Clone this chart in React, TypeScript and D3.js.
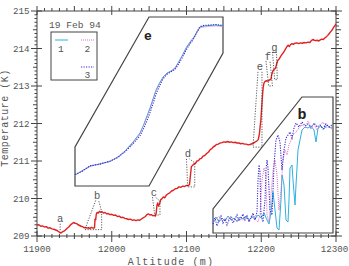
import React from "react";
import * as d3 from "d3";

const W = 349, H = 266;

// Main profile
const mainAlt = [11900,11902.5,11905,11907.5,11910,11912.5,11915,11917.5,11920,11922.5,11925,11927.5,11930,11932,11934,11936,11938,11940,11942.5,11945,11947,11949,11951,11953,11955,11957,11959,11961,11963,11965,11967,11969,11971,11973,11975,11977,11977.6,11978.5,11979.3,11980.5,11982,11983.5,11985,11987,11989,11991,11993,11995,11997.5,12000,12002.5,12005,12007.5,12010,12012.5,12015,12017.5,12020,12022.5,12025,12027.5,12030,12032.5,12035,12037.5,12040,12042.5,12045,12047,12049,12051,12053,12055,12057,12058.5,12059.5,12060.5,12061.5,12062.5,12064,12065.5,12067,12069,12071,12073,12075,12077.5,12080,12082.5,12085,12087.5,12090,12092.5,12095,12097.5,12100,12102,12104,12105.5,12106.5,12108,12110,12112,12114,12116,12118,12120,12122,12124,12127,12129.5,12132,12134,12136,12138,12140,12142.5,12145,12147.5,12150,12152.5,12155,12157.5,12160,12162.5,12165,12167.5,12170,12172.5,12175,12177.5,12180,12182.5,12185,12187.5,12190,12192,12194,12196,12197.5,12198.5,12199.5,12200.5,12201.5,12202.5,12203.5,12205,12207,12209,12211,12213,12214,12215.5,12217,12219,12220.5,12222,12224,12226,12228,12230,12232,12234,12236,12237.5,12239,12241,12243,12245,12247.5,12250,12252.5,12255,12257.5,12260,12262.5,12265,12267,12269,12271,12273,12275,12277,12279,12281,12283,12285,12287,12289,12291,12293,12295,12297,12299,12300];
const mainTemp = [209.29,209.30,209.26,209.27,209.24,209.25,209.21,209.22,209.19,209.18,209.16,209.14,209.10,209.08,209.11,209.13,209.16,209.20,209.24,209.30,209.33,209.36,209.34,209.33,209.30,209.28,209.26,209.25,209.22,209.23,209.21,209.22,209.20,209.23,209.21,209.22,209.45,209.43,209.58,209.63,209.61,209.66,209.63,209.65,209.61,209.63,209.59,209.60,209.57,209.58,209.55,209.56,209.52,209.53,209.49,209.50,209.47,209.46,209.44,209.45,209.42,209.43,209.41,209.43,209.42,209.46,209.49,209.52,209.57,209.59,209.56,209.57,209.54,209.55,209.53,209.62,209.82,209.88,209.80,209.86,209.97,209.99,210.04,210.02,210.09,210.12,210.15,210.20,210.22,210.26,210.27,210.31,210.30,210.33,210.32,210.35,210.34,210.37,210.66,210.85,210.88,210.92,210.94,211.00,211.01,211.06,211.07,211.13,211.14,211.20,211.24,211.31,211.33,211.38,211.40,211.44,211.45,211.48,211.49,211.51,211.50,211.52,211.50,211.51,211.49,211.50,211.48,211.48,211.46,211.47,211.45,211.45,211.43,211.44,211.46,211.48,211.51,211.53,211.57,211.72,211.92,212.10,212.40,212.70,212.95,213.07,213.12,213.14,213.13,213.16,213.18,213.30,213.40,213.44,213.47,213.58,213.68,213.72,213.79,213.85,213.90,213.97,214.04,214.09,214.05,214.10,214.13,214.11,214.14,214.15,214.13,214.15,214.14,214.16,214.15,214.17,214.16,214.21,214.24,214.22,214.21,214.22,214.20,214.23,214.25,214.24,214.28,214.31,214.35,214.40,214.45,214.50,214.57,214.62,214.66];

// Inset e (three sensors)
const eAlt = [12194.0,12194.7,12195.5,12196.5,12197.5,12198.3,12199.0,12199.8,12200.5,12200.9,12201.2,12201.5,12201.8,12202.1,12202.4,12202.8,12203.2,12203.6,12204.0,12204.3,12204.7,12205.1,12205.5,12205.9,12206.2,12206.5,12206.9,12207.5,12208.1,12208.8];
const eTemp1 = [211.400,211.450,211.512,211.538,211.569,211.625,211.700,211.812,211.925,212.038,212.138,212.238,212.350,212.462,212.538,212.625,212.675,212.700,212.738,212.800,212.888,212.988,213.062,213.125,213.188,213.250,213.262,213.269,213.275,213.262];
const eTemp2 = [211.395,211.455,211.505,211.545,211.565,211.630,211.695,211.805,211.915,212.030,212.125,212.225,212.340,212.450,212.530,212.615,212.670,212.695,212.730,212.790,212.880,212.975,213.050,213.115,213.180,213.240,213.250,213.258,213.262,213.255];
const eTemp3 = [211.405,211.445,211.515,211.535,211.575,211.620,211.690,211.790,211.890,211.990,212.080,212.180,212.290,212.410,212.500,212.600,212.660,212.690,212.720,212.775,212.860,212.960,213.040,213.110,213.190,213.255,213.270,213.275,213.280,213.270];

// Inset b (three sensors)
const bAlt1 = [11964.0,11964.6,11965.2,11965.8,11966.4,11967.0,11967.6,11968.2,11968.8,11969.4,11970.0,11970.6,11971.2,11971.8,11972.4,11973.0,11973.6,11974.2,11974.8,11975.2,11975.6,11976.0,11976.4,11976.8,11977.2,11977.6,11977.8,11978.2,11978.6,11979.0,11979.2,11979.4,11979.8,11980.0,11980.4,11980.6,11981.0,11981.4,11981.8,11982.4,11983.0,11983.6,11984.2,11984.6,11985.0,11985.6,11986.2,11986.8,11987.4,11987.8];
const bTemp1 = [209.200,209.215,209.190,209.210,209.195,209.220,209.200,209.210,209.195,209.215,209.205,209.220,209.200,209.215,209.205,209.225,209.210,209.235,209.200,209.180,209.240,209.340,209.250,209.160,209.150,209.300,209.425,209.375,209.200,209.190,209.300,209.460,209.475,209.400,209.275,209.375,209.550,209.600,209.650,209.665,209.660,209.670,209.650,209.590,209.660,209.670,209.655,209.675,209.660,209.665];
const bAlt2 = [11964.0,11964.6,11965.2,11965.8,11966.4,11967.0,11967.6,11968.2,11968.8,11969.4,11970.0,11970.6,11971.2,11971.8,11972.4,11973.0,11973.4,11973.8,11974.2,11974.6,11974.8,11975.2,11975.6,11976.0,11976.4,11976.8,11977.2,11977.6,11978.0,11978.4,11978.8,11979.2,11979.6,11980.0,11980.6,11981.2,11981.8,11982.4,11983.0,11983.6,11984.2,11984.8,11985.4,11986.0,11986.6,11987.2,11987.8];
const bTemp2 = [209.190,209.205,209.220,209.195,209.210,209.200,209.220,209.205,209.190,209.210,209.200,209.215,209.195,209.225,209.205,209.190,209.225,209.400,209.460,209.425,209.225,209.190,209.325,209.450,209.500,209.425,209.250,209.350,209.500,209.550,209.525,209.575,209.600,209.625,209.640,209.660,209.675,209.660,209.695,209.665,209.680,209.650,209.670,209.690,209.660,209.670,209.655];
const bAlt3 = [11964.0,11964.4,11964.8,11965.2,11965.6,11966.0,11966.4,11966.8,11967.2,11967.6,11968.0,11968.4,11968.8,11969.2,11969.6,11970.0,11970.4,11970.8,11971.2,11971.6,11972.0,11972.4,11972.8,11973.0,11973.2,11973.4,11973.6,11974.0,11974.4,11974.6,11974.8,11975.0,11975.4,11975.8,11976.2,11976.6,11977.0,11977.4,11977.8,11978.2,11978.6,11979.0,11979.4,11979.8,11980.2,11980.6,11981.2,11981.8,11982.4,11983.0,11983.6,11984.2,11984.8,11985.4,11986.0,11986.6,11987.2,11987.8];
const bTemp3 = [209.180,209.210,209.170,209.200,209.220,209.185,209.205,209.175,209.200,209.215,209.185,209.205,209.225,209.195,209.210,209.230,209.200,209.220,209.190,209.210,209.235,209.200,209.240,209.400,209.475,209.440,209.225,209.190,209.300,209.450,209.500,209.460,209.250,209.225,209.475,209.600,209.625,209.590,209.450,209.550,209.610,209.625,209.640,209.610,209.660,209.685,209.665,209.690,209.670,209.680,209.660,209.685,209.665,209.675,209.655,209.680,209.665,209.675];

const xTickLabels = ["11900", "12000", "12100", "12200", "12300"];
const yTickLabels = ["209", "210", "211", "212", "213", "214", "215"];
const legendTitle = "19 Feb 94";
const seriesNames = ["1", "2", "3"];

// Feature labels: [label, label altitude, label temp, box alt0, box alt1, box temp bottom, box temp top]
const features: [string, number, number, number, number, number, number][] = [
  ["a", 11931, 209.46, 11931, 11931, 209.12, 209.12],
  ["b", 11980.5, 210.08, 11964, 11986.5, 209.17, 209.65],
  ["c", 12056.5, 210.17, 12057.5, 12064.5, 209.56, 209.93],
  ["d", 12102, 211.19, 12101.5, 12111, 210.31, 210.95],
  ["e", 12198.3, 213.51, 12189, 12201, 211.37, 211.37],
  ["f", 12209, 213.80, 12210, 12215, 213.0, 213.0],
  ["g", 12217.7, 214.04, 12218, 12221.5, 213.17, 213.17],
];

export default function App() {
  const x = d3.scaleLinear().domain([11900, 12300]).range([37, 336]);
  const y = d3.scaleLinear().domain([209, 215]).range([236, 11]);
  const mono = "'Liberation Mono', 'DejaVu Sans Mono', monospace";
  const txt = "#555";

  const mainLine = d3.line<number>().x((_, i) => x(mainAlt[i])).y((d) => y(d));

  // inset e
  const ex = d3.scaleLinear().domain([12194, 12208.8]).range([75, 223]);
  const ey = d3.scaleLinear().domain([211.4, 213.4]).range([175, 15]);
  const eLine = (alt: number[]) => d3.line<number>().x((_, i) => ex(alt[i])).y((d) => ey(d));
  // inset b
  const bx = d3.scaleLinear().domain([11964, 11988]).range([213, 333]);
  const by = d3.scaleLinear().domain([209.1, 209.7]).range([240, 120]);
  const bLine = (alt: number[]) => d3.line<number>().x((_, i) => bx(alt[i])).y((d) => by(d));

  const cyan = "#2fb0e0";
  const pink = "#e070c0";
  const blue = "#3a2ad0";

  const minorX = d3.range(11900, 12301, 10);
  const minorY = d3.range(0, 61).map((i) => 209 + i * 0.1);

  const ePoly = [[149, 17], [223, 17], [223, 53], [149, 186], [75, 186], [75, 147]];
  const bPoly = [[302, 97], [333, 97], [333, 233], [213, 233], [213, 209]];

  return (
    <svg width={W} height={H} style={{ position: "absolute", left: 0, top: 0, background: "#fff" }}>
      {/* axes lines */}
      <g stroke="#444" strokeWidth={1} fill="none">
        <line x1={37} y1={11} x2={37} y2={236} />
        <line x1={37} y1={236} x2={336} y2={236} />
        <line x1={37} y1={11} x2={336} y2={11} />
        <line x1={336} y1={11} x2={336} y2={236} />
        {minorX.map((v, i) => {
          const r = Math.round(v - 11900);
          const big = r % 50 === 0;
          const huge = r % 100 === 0;
          return (
            <g key={"xt" + i}>
              <line x1={x(v)} x2={x(v)} y1={huge ? 231 : big ? 233 : 234} y2={huge ? 242 : big ? 239 : 238} />
              <line x1={x(v)} x2={x(v)} y1={big ? 6 : 8} y2={huge ? 15 : 11} />
            </g>
          );
        })}
        {minorY.map((v, i) => {
          const big = i % 5 === 0;
          const huge = i % 10 === 0;
          return (
            <g key={"yt" + i}>
              <line x1={huge ? 31 : big ? 33 : 34.5} x2={huge ? 42 : 37} y1={y(v)} y2={y(v)} />
              <line x1={huge ? 331 : 336} x2={huge ? 342 : big ? 341 : 339} y1={y(v)} y2={y(v)} />
            </g>
          );
        })}
      </g>
      {/* tick labels */}
      <g fontFamily={mono} fontSize={9.2} fill={txt}>
        {xTickLabels.map((t, i) => (
          <text key={t} x={Math.min(x(+t), 334.5)} y={252} textAnchor="middle">{t}</text>
        ))}
        {yTickLabels.map((t) => (
          <text key={t} x={29.5} y={y(+t) + 3.3} textAnchor="end">{t}</text>
        ))}
      </g>
      <text x={171} y={264.5} textAnchor="middle" fontFamily={mono} fontSize={10} letterSpacing={1.2} fill={txt}>Altitude (m)</text>
      <text transform="translate(8,118) rotate(-90)" textAnchor="middle" fontFamily={mono} fontSize={10} letterSpacing={0.5} fill={txt}>Temperature (K)</text>

      {/* main profile */}
      <path d={mainLine(mainTemp) || ""} fill="none" stroke="#e02222" strokeWidth={1.4} strokeLinejoin="round" />

      {/* feature markers */}
      <g stroke="#333" strokeWidth={0.8} strokeDasharray="1.2,1.4" fill="none">
        {features.map(([lab, la, lt, a0, a1, t0, t1]) => {
          const lx = x(la), ly = y(lt) + 5;
          if (a0 === a1) {
            return <path key={lab} d={`M${lx},${ly} L${x(a0)},${y(t0) - 1}`} />;
          }
          if (t0 === t1) {
            return <path key={lab} d={`M${lx - 2},${ly} L${x(a0)},${y(t0)} L${x(a1)},${y(t0)} L${lx + 2},${ly}`} />;
          }
          return (
            <path key={lab}
              d={`M${lx - 1.5},${ly} L${x(a0)},${y(t0)} L${x(a1)},${y(t0)} L${x(a1)},${y(t1)} L${lx + 1.5},${ly}`} />
          );
        })}
      </g>
      <g fontFamily={mono} fontSize={10.5} fill={txt} textAnchor="middle">
        {features.map(([lab, la, lt]) => (
          <text key={lab} x={x(la)} y={y(lt) + 3.5}>{lab}</text>
        ))}
      </g>

      {/* inset e */}
      <polygon points={ePoly.map((p) => p.join(",")).join(" ")} fill="#fff" stroke="#444" strokeWidth={1.2} />
      <text x={148} y={40} textAnchor="middle" fontFamily={mono} fontWeight="bold" fontSize={13} fill="#222">e</text>
      <path d={eLine(eAlt)(eTemp1) || ""} fill="none" stroke={cyan} strokeWidth={1} />
      <path d={eLine(eAlt)(eTemp2) || ""} fill="none" stroke={pink} strokeWidth={1} strokeDasharray="1,1" />
      <path d={eLine(eAlt)(eTemp3) || ""} fill="none" stroke={blue} strokeWidth={1.1} strokeDasharray="1.2,1.3" />

      {/* inset b */}
      <polygon points={bPoly.map((p) => p.join(",")).join(" ")} fill="#fff" stroke="#444" strokeWidth={1.2} />
      <text x={302} y={119} textAnchor="middle" fontFamily={mono} fontWeight="bold" fontSize={15} fill="#222">b</text>
      <path d={bLine(bAlt1)(bTemp1) || ""} fill="none" stroke={cyan} strokeWidth={1} />
      <path d={bLine(bAlt2)(bTemp2) || ""} fill="none" stroke={pink} strokeWidth={1} strokeDasharray="1,1" />
      <path d={bLine(bAlt3)(bTemp3) || ""} fill="none" stroke={blue} strokeWidth={1.1} strokeDasharray="1.2,1.3" />

      {/* legend */}
      <text x={49} y={28} fontFamily={mono} fontSize={9.6} fill={txt}>{legendTitle}</text>
      <rect x={51} y={32} width={46} height={48} fill="none" stroke="#444" strokeWidth={1} />
      <line x1={55} x2={68} y1={40} y2={40} stroke={cyan} strokeWidth={1} />
      <line x1={81} x2={94} y1={40} y2={40} stroke={pink} strokeWidth={1} strokeDasharray="1,1" />
      <line x1={81} x2={94} y1={67} y2={67} stroke={blue} strokeWidth={1.1} strokeDasharray="1.2,1.3" />
      <g fontFamily={mono} fontSize={9.6} fill={txt} textAnchor="middle">
        <text x={61} y={51.5}>{seriesNames[0]}</text>
        <text x={87.5} y={51.5}>{seriesNames[1]}</text>
        <text x={87.5} y={78}>{seriesNames[2]}</text>
      </g>
    </svg>
  );
}
